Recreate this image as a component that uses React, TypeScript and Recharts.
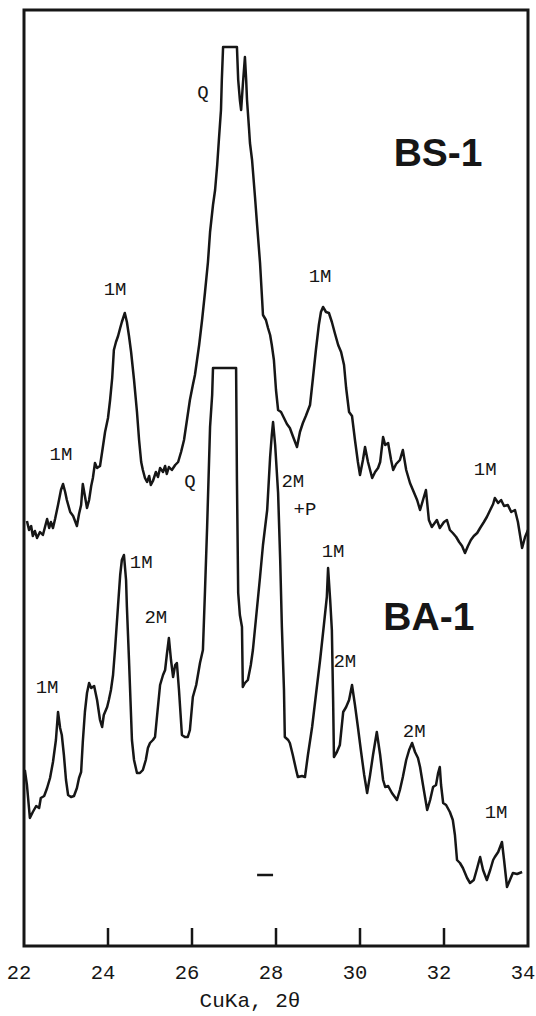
import { Line, LineChart, ReferenceArea, ReferenceDot, ReferenceLine, XAxis, YAxis } from "recharts";

const INK = "#161616";
const MONO = "'Liberation Mono', 'DejaVu Sans Mono', monospace";
const SANS = "'Liberation Sans', Arial, sans-serif";

const TWO_THETA_TICKS = [22, 24, 26, 28, 30, 32, 34];

// [2θ (deg), intensity (arb. units, BS-1 trace offset upward)]
const bs1Scan: [number, number][] = [
  [22.07, 42.5], [22.12, 41.6], [22.17, 42.0], [22.21, 41.0], [22.26, 41.5], [22.31, 40.8], [22.38, 41.4], [22.45, 41.1],
  [22.5, 41.9], [22.55, 42.7], [22.6, 41.8], [22.64, 42.4], [22.69, 41.8], [22.74, 42.7], [22.81, 44.1], [22.88, 45.6],
  [22.93, 46.2], [22.98, 45.4], [23.02, 44.6], [23.1, 43.4], [23.17, 43.0], [23.26, 42.0], [23.31, 43.2], [23.36, 44.1],
  [23.4, 46.2], [23.45, 45.0], [23.5, 43.8], [23.55, 44.6], [23.6, 46.0], [23.64, 46.8], [23.69, 48.3], [23.74, 47.8],
  [23.81, 48.0], [23.86, 49.4], [23.93, 51.4], [24.0, 52.8], [24.05, 54.6], [24.1, 56.8], [24.14, 59.6], [24.19, 60.4],
  [24.24, 61.0], [24.29, 61.8], [24.33, 62.4], [24.4, 63.3], [24.45, 62.4], [24.5, 61.0], [24.55, 59.4], [24.62, 56.6],
  [24.69, 53.4], [24.74, 50.6], [24.79, 48.4], [24.83, 47.6], [24.88, 46.8], [24.93, 46.4], [24.98, 47.0], [25.02, 46.1],
  [25.07, 46.5], [25.14, 47.4], [25.19, 46.9], [25.24, 47.8], [25.31, 47.4], [25.36, 48.0], [25.4, 47.2], [25.45, 47.9],
  [25.52, 47.6], [25.6, 48.1], [25.67, 48.4], [25.74, 49.4], [25.81, 50.6], [25.88, 52.6], [25.95, 54.6], [26.02, 56.1],
  [26.07, 57.1], [26.12, 58.6], [26.17, 60.1], [26.24, 62.6], [26.31, 65.4], [26.38, 68.4], [26.43, 71.4], [26.5, 74.1],
  [26.55, 75.6], [26.6, 78.1], [26.64, 80.6], [26.69, 83.6], [26.71, 86.6], [26.74, 89.9], [27.07, 89.9], [27.1, 86.6],
  [27.14, 84.6], [27.17, 83.6], [27.21, 86.1], [27.26, 88.9], [27.29, 86.6], [27.31, 84.6], [27.36, 81.6], [27.38, 80.3],
  [27.43, 78.6], [27.5, 74.9], [27.55, 72.1], [27.62, 68.3], [27.67, 64.6], [27.69, 63.1], [27.76, 62.6], [27.81, 61.8],
  [27.86, 61.1], [27.9, 60.1], [27.95, 58.6], [28.0, 55.6], [28.05, 53.6], [28.12, 53.4], [28.19, 52.8], [28.26, 52.2],
  [28.33, 51.8], [28.4, 51.0], [28.5, 49.9], [28.57, 51.4], [28.64, 52.3], [28.71, 53.0], [28.81, 54.1], [28.88, 56.8],
  [28.95, 59.6], [29.02, 62.1], [29.07, 63.4], [29.12, 63.9], [29.19, 63.4], [29.26, 63.3], [29.33, 62.4], [29.4, 61.3],
  [29.48, 60.1], [29.55, 59.4], [29.62, 58.1], [29.67, 55.8], [29.74, 53.4], [29.81, 53.0], [29.88, 50.6], [29.95, 48.4],
  [30.0, 47.1], [30.07, 48.6], [30.12, 49.9], [30.19, 48.4], [30.29, 46.8], [30.36, 47.4], [30.43, 47.8], [30.48, 48.4],
  [30.55, 50.9], [30.6, 50.1], [30.67, 50.3], [30.74, 48.6], [30.79, 47.6], [30.86, 48.2], [30.95, 48.6], [31.02, 49.6],
  [31.1, 47.6], [31.19, 46.3], [31.26, 45.6], [31.36, 44.6], [31.43, 43.6], [31.5, 44.6], [31.57, 45.6], [31.64, 42.6],
  [31.71, 41.9], [31.83, 42.6], [31.9, 41.8], [32.0, 42.4], [32.07, 42.6], [32.14, 41.6], [32.21, 41.3], [32.29, 40.9],
  [32.36, 40.4], [32.43, 40.0], [32.5, 39.3], [32.57, 40.0], [32.64, 40.6], [32.71, 41.0], [32.79, 41.3], [32.86, 41.8],
  [32.95, 42.4], [33.02, 42.9], [33.1, 43.6], [33.17, 44.2], [33.21, 44.8], [33.29, 44.3], [33.36, 44.6], [33.43, 44.0],
  [33.52, 44.1], [33.6, 43.4], [33.69, 43.6], [33.76, 42.4], [33.86, 39.8], [33.93, 40.9], [34.0, 41.6],
];

const ba1Scan: [number, number][] = [
  [22.02, 17.6], [22.07, 16.1], [22.14, 12.8], [22.21, 13.4], [22.29, 14.0], [22.36, 13.8], [22.4, 14.8], [22.48, 15.0],
  [22.55, 15.8], [22.62, 16.8], [22.69, 18.4], [22.76, 20.6], [22.81, 23.4], [22.86, 21.8], [22.9, 21.1], [22.95, 19.1],
  [23.0, 16.6], [23.05, 15.1], [23.12, 14.9], [23.19, 15.0], [23.26, 15.8], [23.31, 16.8], [23.36, 17.4], [23.4, 20.4],
  [23.45, 23.4], [23.5, 25.3], [23.55, 26.3], [23.6, 25.8], [23.67, 26.0], [23.74, 24.6], [23.81, 22.6], [23.86, 21.9],
  [23.9, 23.1], [23.98, 23.9], [24.02, 24.6], [24.07, 25.6], [24.12, 27.1], [24.17, 29.8], [24.24, 34.1], [24.29, 37.1],
  [24.33, 38.6], [24.38, 39.1], [24.43, 36.6], [24.45, 33.9], [24.5, 28.6], [24.57, 20.6], [24.62, 18.6], [24.69, 17.3],
  [24.76, 17.3], [24.83, 17.6], [24.9, 18.6], [24.95, 19.8], [25.0, 20.3], [25.07, 20.6], [25.12, 20.9], [25.17, 23.1],
  [25.24, 26.1], [25.31, 27.1], [25.36, 27.6], [25.4, 29.1], [25.45, 30.8], [25.5, 28.6], [25.55, 26.9], [25.6, 28.1],
  [25.64, 28.3], [25.69, 25.6], [25.76, 21.1], [25.83, 20.9], [25.9, 20.9], [25.95, 21.6], [26.02, 24.9], [26.1, 26.1],
  [26.19, 28.3], [26.26, 29.6], [26.31, 35.6], [26.36, 41.9], [26.4, 47.6], [26.43, 51.9], [26.48, 55.1], [26.5, 57.8],
  [27.05, 57.8], [27.07, 46.6], [27.1, 35.3], [27.14, 33.1], [27.19, 31.9], [27.21, 25.9], [27.26, 26.3], [27.33, 26.6],
  [27.4, 28.1], [27.45, 29.6], [27.52, 32.6], [27.62, 36.9], [27.69, 40.1], [27.79, 43.6], [27.86, 48.9], [27.9, 51.1],
  [27.93, 52.4], [27.98, 50.1], [28.05, 45.3], [28.1, 38.6], [28.14, 31.9], [28.19, 25.6], [28.21, 20.9], [28.29, 20.6],
  [28.33, 20.3], [28.4, 19.1], [28.48, 17.6], [28.52, 16.9], [28.62, 17.0], [28.69, 16.9], [28.76, 19.1], [28.86, 21.9],
  [28.95, 25.1], [29.05, 28.6], [29.14, 32.1], [29.21, 34.9], [29.24, 37.8], [29.29, 34.6], [29.33, 31.6], [29.36, 24.6],
  [29.38, 18.9], [29.45, 19.4], [29.52, 20.1], [29.6, 23.4], [29.67, 23.9], [29.74, 24.6], [29.81, 26.1], [29.88, 24.1],
  [29.95, 21.9], [30.02, 19.6], [30.1, 17.1], [30.17, 15.3], [30.24, 17.1], [30.31, 19.1], [30.4, 21.4], [30.48, 19.1],
  [30.55, 16.6], [30.6, 15.9], [30.67, 16.0], [30.76, 15.3], [30.83, 14.9], [30.88, 14.6], [30.95, 15.6], [31.02, 16.9],
  [31.1, 18.6], [31.17, 19.6], [31.24, 20.3], [31.31, 19.4], [31.38, 18.8], [31.43, 17.9], [31.5, 16.1], [31.6, 13.6],
  [31.67, 14.6], [31.74, 15.9], [31.81, 16.1], [31.86, 17.3], [31.9, 17.9], [31.93, 16.1], [31.98, 14.3], [32.05, 14.1],
  [32.14, 13.4], [32.21, 12.6], [32.26, 11.1], [32.31, 8.6], [32.38, 8.3], [32.45, 7.8], [32.55, 6.8], [32.62, 6.3],
  [32.71, 6.6], [32.79, 7.8], [32.86, 8.9], [32.93, 7.6], [33.02, 6.6], [33.1, 7.6], [33.17, 8.6], [33.21, 8.9],
  [33.29, 9.4], [33.38, 10.4], [33.43, 8.6], [33.5, 5.9], [33.57, 6.6], [33.64, 7.3], [33.74, 7.2], [33.86, 7.4],
];

// phase tags: text, 2θ, intensity
const peakTags: [string, number, number][] = [
  ["Q", 26.26, 85.3],
  ["1M", 22.88, 49.1],
  ["1M", 24.17, 65.6],
  ["1M", 29.05, 66.9],
  ["1M", 32.98, 47.6],
  ["Q", 25.95, 46.4],
  ["2M", 28.4, 46.4],
  ["+P", 28.69, 43.6],
  ["1M", 29.36, 39.4],
  ["2M", 29.64, 28.4],
  ["1M", 24.79, 38.3],
  ["2M", 25.14, 32.8],
  ["1M", 22.55, 25.8],
  ["2M", 31.29, 21.4],
  ["1M", 33.24, 13.3],
];

const sampleTags: [string, number, number][] = [
  ["BS-1", 31.86, 79.4],
  ["BA-1", 31.64, 33.0],
];

// short marker bar near 28°
const markerBar = { from: 27.55, to: 27.93, level: 7.1 };

const toRows = (scan: [number, number][]) => scan.map(([theta, counts]) => ({ theta, counts }));

function ThetaTick({ x, y, payload }: any) {
  const v = payload.value;
  const inner = v > 22 && v < 34;
  return (
    <g>
      {inner && <line x1={x} x2={x} y1={y - 18} y2={y} stroke={INK} strokeWidth={2.5} />}
      <text x={x - 5} y={y + 27} textAnchor="middle" dominantBaseline="central" fontFamily={MONO} fontSize={20.5} fill={INK}>
        {v}
      </text>
    </g>
  );
}

function AxisTitle({ viewBox }: any) {
  return (
    <text x={viewBox.x + 226} y={viewBox.y + 55} textAnchor="middle" dominantBaseline="central" fontFamily={MONO} fontSize={21} fill={INK}>
      CuKa, 2θ
    </text>
  );
}

function Tag({ viewBox, text, size, font, weight }: any) {
  return (
    <text x={viewBox.x} y={viewBox.y} textAnchor="middle" dominantBaseline="central" fontFamily={font} fontSize={size} fontWeight={weight} fill={INK}>
      {text}
    </text>
  );
}

export default function App() {
  return (
    <div style={{ position: "absolute", left: 0, top: 0, width: 536, height: 1016, background: "#fff" }}>
      <LineChart width={536} height={1016} margin={{ top: 10, right: 8, bottom: 0, left: 24 }}>
        <XAxis
          type="number"
          dataKey="theta"
          domain={[22, 34]}
          ticks={TWO_THETA_TICKS}
          allowDataOverflow
          height={70}
          axisLine={false}
          tickLine={false}
          tickSize={0}
          tickMargin={0}
          tick={<ThetaTick />}
          label={<AxisTitle />}
        />
        <YAxis type="number" dataKey="counts" domain={[0, 93.6]} hide width={0} />
        <ReferenceArea x1={22} x2={34} y1={0} y2={93.6} fill="none" stroke={INK} strokeWidth={3} ifOverflow="visible" />
        <ReferenceLine
          segment={[{ x: markerBar.from, y: markerBar.level }, { x: markerBar.to, y: markerBar.level }]}
          stroke={INK}
          strokeWidth={2.5}
        />
        <Line data={toRows(bs1Scan)} dataKey="counts" type="linear" stroke={INK} strokeWidth={2.5} strokeLinejoin="round" dot={false} isAnimationActive={false} />
        <Line data={toRows(ba1Scan)} dataKey="counts" type="linear" stroke={INK} strokeWidth={2.5} strokeLinejoin="round" dot={false} isAnimationActive={false} />
        {peakTags.map(([text, theta, y], i) => (
          <ReferenceDot key={`p${i}`} x={theta} y={y} r={0} fill="none" stroke="none" ifOverflow="visible"
            label={<Tag text={text} size={19} font={MONO} weight={400} />} />
        ))}
        {sampleTags.map(([text, theta, y]) => (
          <ReferenceDot key={text} x={theta} y={y} r={0} fill="none" stroke="none" ifOverflow="visible"
            label={<Tag text={text} size={39} font={SANS} weight={700} />} />
        ))}
      </LineChart>
    </div>
  );
}
